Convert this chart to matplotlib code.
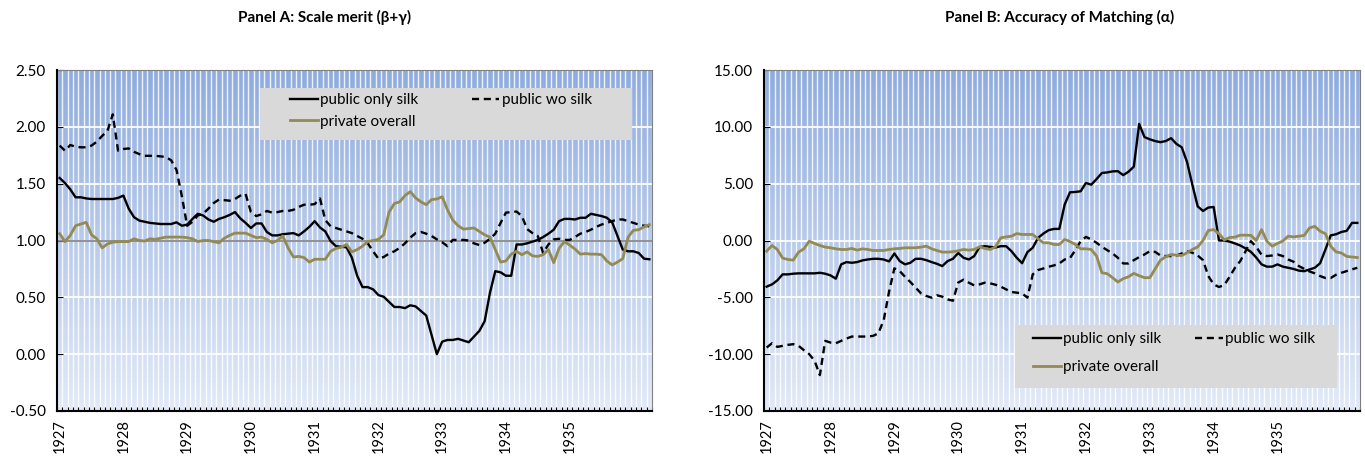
import numpy as np
import matplotlib
matplotlib.use('Agg')
import matplotlib.pyplot as plt
from matplotlib.patches import Rectangle

plt.rcParams['font.family'] = ['Lato', 'DejaVu Sans']

# --- monthly values, Jan 1927 .. Apr 1936 ---
year_labels = ['1927', '1928', '1929', '1930', '1931', '1932', '1933', '1934', '1935']
series_names = ['public only silk', 'public wo silk', 'private overall']

# Panel A: scale merit (beta+gamma)
scale_only_silk = [
    1.55, 1.505, 1.45, 1.38, 1.38, 1.37, 1.365, 1.365, 1.365, 1.365, 1.365, 1.375,
    1.395, 1.28, 1.205, 1.175, 1.165, 1.155, 1.15, 1.145, 1.145, 1.145, 1.16, 1.13,
    1.14, 1.19, 1.235, 1.22, 1.185, 1.165, 1.19, 1.205, 1.225, 1.25, 1.195, 1.155,
    1.11, 1.15, 1.15, 1.075, 1.045, 1.045, 1.055, 1.06, 1.065, 1.045, 1.08, 1.12,
    1.17, 1.115, 1.08, 0.995, 0.95, 0.945, 0.94, 0.85, 0.69, 0.59, 0.59, 0.57,
    0.52, 0.505, 0.46, 0.415, 0.415, 0.405, 0.43, 0.42, 0.38, 0.34, 0.17, 0.0,
    0.11, 0.125, 0.125, 0.135, 0.12, 0.105, 0.155, 0.205, 0.29, 0.54, 0.73, 0.72,
    0.69, 0.69, 0.965, 0.965, 0.975, 0.99, 1.005, 1.03, 1.06, 1.095, 1.17, 1.19,
    1.19, 1.185, 1.20, 1.20, 1.235, 1.225, 1.215, 1.20, 1.16, 1.04, 0.92, 0.905,
    0.905, 0.89, 0.84, 0.835]
scale_wo_silk = [
    1.835, 1.79, 1.84, 1.825, 1.82, 1.82, 1.835, 1.87, 1.92, 1.965, 2.11, 1.79,
    1.805, 1.81, 1.78, 1.76, 1.745, 1.745, 1.745, 1.74, 1.735, 1.705, 1.62, 1.39,
    1.13, 1.165, 1.22, 1.235, 1.28, 1.33, 1.36, 1.355, 1.35, 1.365, 1.395, 1.41,
    1.25, 1.215, 1.23, 1.26, 1.245, 1.25, 1.26, 1.26, 1.27, 1.295, 1.315, 1.315,
    1.32, 1.37, 1.18, 1.125, 1.11, 1.095, 1.08, 1.065, 1.04, 1.015, 0.975, 0.905,
    0.84, 0.855, 0.885, 0.905, 0.935, 0.975, 1.025, 1.065, 1.075, 1.06, 1.04, 1.01,
    0.985, 0.95, 1.005, 1.005, 1.005, 1.0, 0.975, 0.96, 0.98, 1.015, 1.06, 1.155,
    1.245, 1.25, 1.255, 1.215, 1.10, 1.065, 1.04, 0.89, 0.965, 1.01, 1.015, 1.005,
    1.005, 1.03, 1.06, 1.075, 1.095, 1.12, 1.14, 1.155, 1.17, 1.185, 1.185, 1.17,
    1.155, 1.14, 1.13, 1.125]
scale_private = [
    1.06, 0.99, 1.045, 1.13, 1.145, 1.16, 1.05, 1.015, 0.935, 0.97, 0.985, 0.99,
    0.99, 0.99, 1.015, 1.0, 0.995, 1.015, 1.01, 1.02, 1.03, 1.03, 1.03, 1.03,
    1.025, 1.015, 0.99, 1.0, 1.0, 0.99, 0.98, 1.02, 1.045, 1.065, 1.065, 1.065,
    1.045, 1.025, 1.03, 1.01, 0.98, 1.0, 1.04, 0.935, 0.855, 0.86, 0.85, 0.81,
    0.835, 0.835, 0.835, 0.905, 0.93, 0.94, 0.965, 0.9, 0.92, 0.95, 0.99, 1.0,
    1.01, 1.05, 1.25, 1.325, 1.34, 1.395, 1.43, 1.375, 1.34, 1.315, 1.36, 1.365,
    1.385, 1.27, 1.18, 1.13, 1.10, 1.105, 1.11, 1.08, 1.05, 1.03, 0.92, 0.81,
    0.82, 0.88, 0.905, 0.875, 0.9, 0.865, 0.86, 0.875, 0.92, 0.805, 0.93, 0.99,
    0.96, 0.925, 0.88, 0.885, 0.88, 0.88, 0.875, 0.82, 0.785, 0.81, 0.84, 1.03,
    1.09, 1.095, 1.12, 1.14]

# Panel B: accuracy of matching (alpha)
match_only_silk = [
    -4.06, -3.86, -3.51, -2.98, -2.98, -2.92, -2.89, -2.89, -2.89, -2.89, -2.84, -2.92,
    -3.07, -3.36, -2.1, -1.9, -1.96, -1.9, -1.75, -1.67, -1.61, -1.61, -1.67, -1.84,
    -1.14, -1.81, -2.1, -1.96, -1.61, -1.61, -1.73, -1.9, -2.05, -2.25, -1.81, -1.61,
    -1.1, -1.52, -1.67, -1.37, -0.58, -0.50, -0.56, -0.61, -0.50, -0.50, -0.94, -1.52,
    -2.0, -1.02, -0.64, 0.23, 0.61, 0.91, 1.02, 1.02, 3.16, 4.24, 4.27, 4.33,
    5.06, 4.91, 5.41, 5.94, 5.99, 6.08, 6.1, 5.75, 6.05, 6.5, 10.26, 9.1,
    8.9, 8.75, 8.65, 8.75, 9.0, 8.5, 8.2, 6.9, 4.9, 3.0, 2.6, 2.9,
    2.95, 0.0, 0.0, -0.1, -0.26, -0.44, -0.7, -1.0, -1.5, -2.1, -2.3, -2.3,
    -2.1, -2.3, -2.4, -2.5, -2.65, -2.7, -2.55, -2.4, -2.0, -0.8, 0.45, 0.55,
    0.75, 0.85, 1.55, 1.55]
match_wo_silk = [
    -9.42, -9.04, -9.36, -9.27, -9.18, -9.12, -9.27, -9.65, -10.0, -10.58, -11.84, -8.83,
    -8.98, -9.04, -8.83, -8.63, -8.45, -8.45, -8.45, -8.45, -8.39, -8.16, -7.0, -4.5,
    -2.45, -2.69, -3.19, -3.65, -4.15, -4.65, -4.88, -5.03, -4.82, -4.94, -5.18, -5.3,
    -3.7, -3.45, -3.71, -3.95, -3.86, -3.71, -3.77, -3.89, -4.06, -4.30, -4.53, -4.59,
    -4.65, -5.03, -2.98, -2.60, -2.46, -2.31, -2.19, -2.02, -1.67, -1.55, -0.85, -0.06,
    0.32, 0.09, -0.20, -0.56, -0.85, -1.14, -1.52, -2.02, -2.02, -1.73, -1.46, -1.23,
    -0.94, -1.0, -1.32, -1.37, -1.37, -1.32, -1.14, -0.94, -1.08, -1.32, -1.73, -3.13,
    -3.86, -4.09, -3.92, -3.19, -2.40, -1.81, -0.94, -0.06, -0.56, -1.26, -1.37, -1.32,
    -1.23, -1.37, -1.67, -1.87, -2.25, -2.49, -2.72, -2.89, -3.13, -3.30, -3.30, -3.01,
    -2.84, -2.69, -2.54, -2.40]
match_private = [
    -0.94, -0.44, -0.79, -1.55, -1.67, -1.73, -1.02, -0.73, -0.06, -0.26, -0.44, -0.58,
    -0.64, -0.73, -0.79, -0.79, -0.70, -0.85, -0.73, -0.79, -0.88, -0.88, -0.88, -0.79,
    -0.73, -0.70, -0.64, -0.64, -0.64, -0.58, -0.50, -0.73, -0.88, -1.02, -1.02, -0.99,
    -0.9, -0.79, -0.85, -0.79, -0.56, -0.70, -0.79, -0.56, 0.23, 0.32, 0.38, 0.61,
    0.53, 0.53, 0.53, 0.15, -0.20, -0.20, -0.35, -0.35, 0.09, -0.09, -0.35, -0.73,
    -0.73, -0.79, -1.37, -2.84, -2.92, -3.27, -3.65, -3.36, -3.19, -2.89, -3.10, -3.27,
    -3.27, -2.5, -1.73, -1.43, -1.23, -1.29, -1.32, -1.08, -0.79, -0.56, 0.0, 0.88,
    0.96, 0.6, 0.05, 0.26, 0.3, 0.47, 0.47, 0.45, 0.0, 0.96, -0.06, -0.5,
    -0.25, -0.05, 0.38, 0.32, 0.38, 0.44, 1.1, 1.25, 0.82, 0.6, -0.5, -1.0,
    -1.1, -1.4, -1.45, -1.5]

GOLD = '#948a54'
W, H = 1365, 457


def draw_panel(ax, series, ylim, ystep, title, title_x, legend_rect, legend_pos, rowgap, colgap, refline=None):
    n = len(series[0])
    months = np.arange(n)
    x0, x1 = -0.5, n - 0.5

    # blue gradient plot area, darker at the top
    top = np.array([143, 172, 222]) / 255
    bot = np.array([226, 234, 247]) / 255
    t = np.linspace(0, 1, 256)[:, None]
    grad = (top * (1 - t) + bot * t)[:, None, :]
    ax.imshow(grad, extent=(x0, x1, ylim[0], ylim[1]), aspect='auto', zorder=0, origin='upper')

    # white month stripes and horizontal gridlines
    for xv in np.arange(x0, x1 + 0.01, 1):
        ax.axvline(xv, color='white', lw=1.0, alpha=0.85, zorder=1)
    yt = np.arange(ylim[0], ylim[1] + ystep / 2, ystep)
    for yv in yt:
        ax.axhline(yv, color='white', lw=1.3, zorder=1)
    if refline is not None:
        ax.axhline(refline, color='#7f7f7f', lw=1.2, zorder=2)

    styles = [dict(color='black', lw=1.7),
              dict(color='black', lw=1.7, ls=(0, (3, 2))),
              dict(color=GOLD, lw=2.0)]
    handles = []
    for vals, name, st in zip(series, series_names, styles):
        h, = ax.plot(months, vals, label=name, zorder=3, **st)
        handles.append(h)

    ax.set_xlim(x0, x1)
    ax.set_ylim(*ylim)
    ax.set_yticks(yt)
    ax.set_yticklabels([f'{v:.2f}' for v in yt], fontsize=11)
    ax.set_xticks(np.arange(0, n, 12)[:len(year_labels)])
    ax.set_xticklabels(year_labels, rotation=90, fontsize=10.5)
    ax.set_xticks(np.arange(x0, x1 + 0.01, 1), minor=True)
    ax.tick_params(axis='x', which='major', length=0, pad=6)
    ax.tick_params(axis='x', which='minor', direction='in', length=3, width=0.8)
    ax.tick_params(axis='y', direction='in', length=4, width=0.8, pad=8)
    for s in ['left', 'bottom']:
        ax.spines[s].set_color('black')
        ax.spines[s].set_linewidth(1.5)
        ax.spines[s].set_zorder(5)
    for s in ['top', 'right']:
        ax.spines[s].set_color('#7f7f7f')
        ax.spines[s].set_linewidth(0.8)

    # grey legend box (drawn separately so it can sit where the original has it)
    lx, ly, lw_, lh = legend_rect
    ax.add_patch(Rectangle((lx, ly), lw_, lh, transform=ax.transAxes,
                           facecolor='#d9d9d9', edgecolor='none', zorder=6))
    # legend fills column-wise, so reorder to get the rows as in the original
    leg = ax.legend(handles=[handles[0], handles[2], handles[1]], ncol=2,
                    loc='upper left', bbox_to_anchor=legend_pos, frameon=False,
                    fontsize=11, handlelength=1.8, handletextpad=0.15,
                    borderpad=0, borderaxespad=0, labelspacing=rowgap,
                    columnspacing=colgap)
    leg.set_zorder(7)

    fig = ax.figure
    fig.text(title_x, 1 - 17 / H, title, ha='center', va='center',
             fontsize=11, fontweight='bold')


fig = plt.figure(figsize=(W / 100, H / 100), dpi=100)
axA = fig.add_axes([57 / W, (H - 411) / H, 595 / W, 341 / H])
axB = fig.add_axes([764 / W, (H - 411) / H, 596 / W, 341 / H])

draw_panel(axA, [scale_only_silk, scale_wo_silk, scale_private], (-0.5, 2.5), 0.5,
           'Panel A: Scale merit (β+γ)', 325 / W,
           (0.341, 0.795, 0.625, 0.152), (0.392, 0.932), 0.5, 3.5, refline=1.0)
draw_panel(axB, [match_only_silk, match_wo_silk, match_private], (-15, 15), 5,
           'Panel B: Accuracy of Matching (α)', 1060 / W,
           (0.421, 0.067, 0.540, 0.185), (0.452, 0.232), 0.95, 2.2)

fig.savefig('out.png', dpi=100)
